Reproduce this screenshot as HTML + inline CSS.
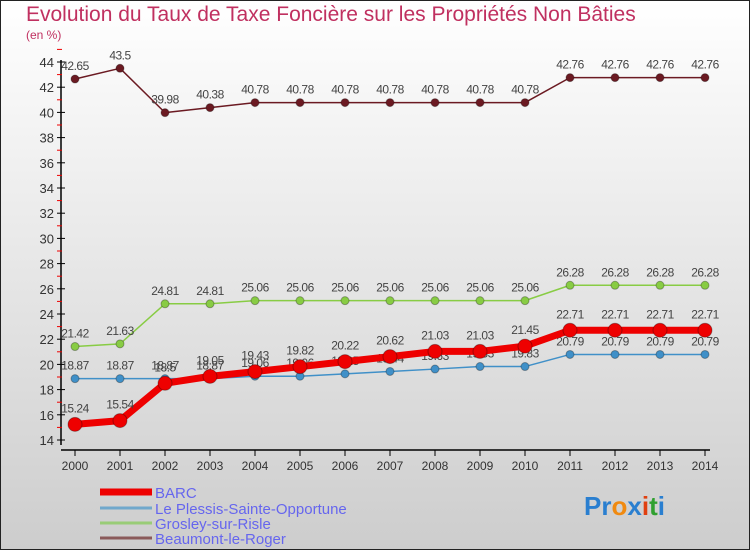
<!DOCTYPE html>
<html><head><meta charset="utf-8"><style>
body{margin:0}
#c{position:relative;width:750px;height:550px;overflow:hidden;font-family:"Liberation Sans",sans-serif;}
</style></head><body>
<div id="c">
<svg id="s" width="750" height="550" xmlns="http://www.w3.org/2000/svg">
<defs>
<linearGradient id="bg" x1="0" y1="0" x2="0" y2="1"><stop offset="0" stop-color="#ffffff"/><stop offset="1" stop-color="#cdcdcd"/></linearGradient>
</defs>
<rect x="0.5" y="0.5" width="749" height="549" fill="url(#bg)" stroke="#222"/>
<text x="26" y="21" font-size="21" fill="#c03060">Evolution du Taux de Taxe Foncière sur les Propriétés Non Bâties</text>
<text x="26" y="39" font-size="12" fill="#c03060">(en %)</text>
<g id="axes"></g>
<g id="series"></g>
<g id="legend"></g>
<text x="584" y="515" font-size="26" font-weight="bold"><tspan fill="#2a7fd0">Pr</tspan><tspan fill="#f08a10">o</tspan><tspan fill="#2a7fd0">x</tspan><tspan fill="#e04010">i</tspan><tspan fill="#30a030">t</tspan><tspan fill="#2a7fd0">i</tspan></text>
</svg>
</div>
<script>
const years=[2000,2001,2002,2003,2004,2005,2006,2007,2008,2009,2010,2011,2012,2013,2014];
const barc=[15.24,15.54,18.5,19.05,19.43,19.82,20.22,20.62,21.03,21.03,21.45,22.71,22.71,22.71,22.71];
const plessis=[18.87,18.87,18.87,18.87,19.06,19.06,19.25,19.44,19.63,19.83,19.83,20.79,20.79,20.79,20.79];
const grosley=[21.42,21.63,24.81,24.81,25.06,25.06,25.06,25.06,25.06,25.06,25.06,26.28,26.28,26.28,26.28];
const beaumont=[42.65,43.5,39.98,40.38,40.78,40.78,40.78,40.78,40.78,40.78,40.78,42.76,42.76,42.76,42.76];
const yTicks=[14,16,18,20,22,24,26,28,30,32,34,36,38,40,42,44];
const NS="http://www.w3.org/2000/svg";
const X=i=>75+i*45;
const Y=v=>440-(v-14)*12.6;
function mk(tag,attrs,parent,txt){const e=document.createElementNS(NS,tag);for(const k in attrs)e.setAttribute(k,attrs[k]);if(txt!==undefined)e.textContent=txt;parent.appendChild(e);return e;}
const ax=document.getElementById('axes');
let l=mk('line',{x1:61,y1:60,x2:61,y2:445,stroke:'#000','stroke-width':1.5},ax);


l=mk('line',{x1:61,y1:450,x2:710,y2:450,stroke:'#000','stroke-width':1.5},ax);


yTicks.forEach(v=>{
  mk('line',{x1:57,y1:Y(v),x2:65,y2:Y(v),stroke:'#000'},ax);
  mk('line',{x1:57,y1:Y(v+1),x2:62,y2:Y(v+1),stroke:'#e00'},ax);
  const t=mk('text',{x:54,y:Y(v)+5,'text-anchor':'end','font-size':13,fill:'#333'},ax,v);
  
  
});
years.forEach((y,i)=>{
  mk('line',{x1:X(i),y1:450,x2:X(i),y2:456,stroke:'#000'},ax);
  const t=mk('text',{x:X(i),y:470,'text-anchor':'middle','font-size':12,fill:'#333'},ax,y);
  
  
});
const sg=document.getElementById('series');
function series(vals,color,w,r,name,labOff){
  const g=mk('g',{},sg);
  
  
  mk('polyline',{points:vals.map((v,i)=>X(i)+','+Y(v)).join(' '),fill:'none',stroke:color,'stroke-width':w,'stroke-linejoin':'round'},g);
  vals.forEach((v,i)=>{
    const c=mk('circle',{cx:X(i),cy:Y(v),r:r,fill:color,stroke:'rgba(0,0,0,0.3)'},g);
    
    
    const t=mk('text',{x:X(i),y:Y(v)-labOff,'text-anchor':'middle','font-size':12,fill:'#444','letter-spacing':'-0.5'},g,String(v));
    
    
  });
}
series(beaumont,'#6b1a22',1.5,4,'beaumont',9);
series(grosley,'#88cc44',1.5,4,'grosley',9);
series(plessis,'#4090c8',1.5,4,'plessis',9);
series(barc,'#ee0000',7,7,'barc',12);
const lg=document.getElementById('legend');
const leg=[['BARC','#ee0000',7,492],['Le Plessis-Sainte-Opportune','#70a8cc',3,508],['Grosley-sur-Risle','#99cc77',3,523],['Beaumont-le-Roger','#8a5a5a',3,538]];
leg.forEach(d=>{
  const g=mk('g',{},lg);
  
  
  mk('line',{x1:100,y1:d[3],x2:152,y2:d[3],stroke:d[1],'stroke-width':d[2]},g);
  mk('text',{x:155,y:d[3]+6,'font-size':15,fill:'#6666ee'},g,d[0]);
});
</script>
</body></html>
